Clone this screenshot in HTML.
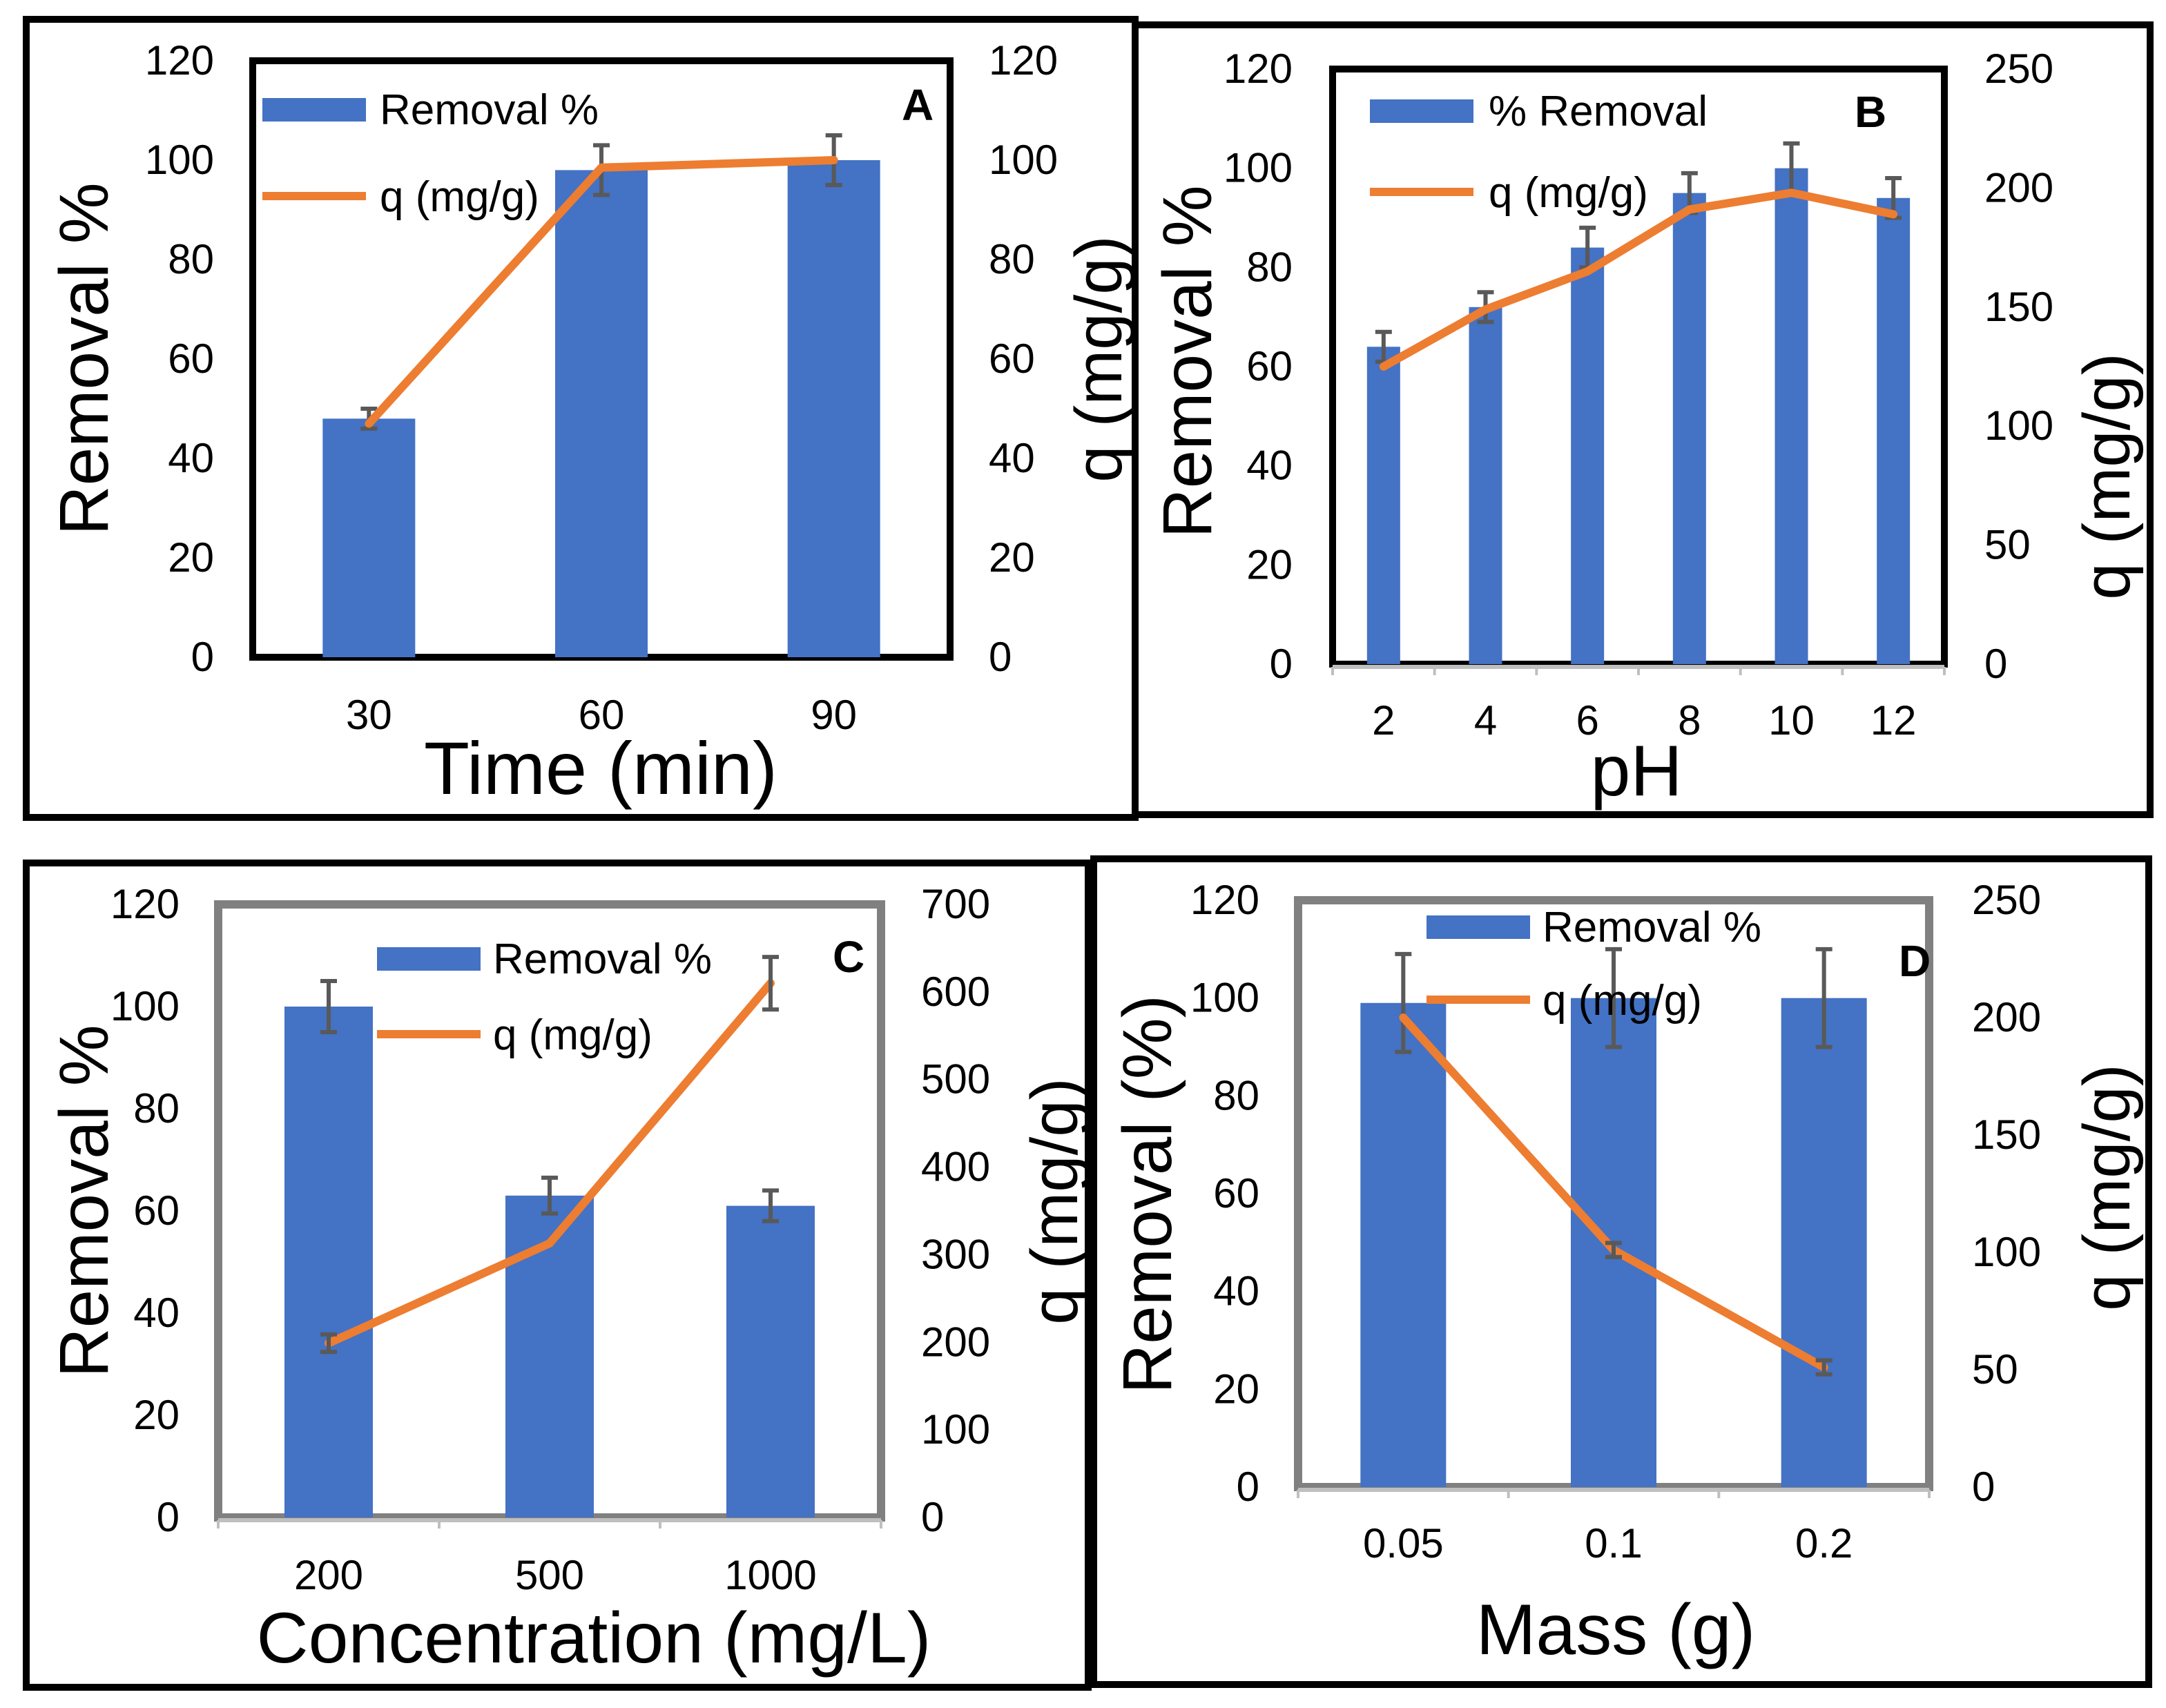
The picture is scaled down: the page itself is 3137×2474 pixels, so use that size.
<!DOCTYPE html>
<html><head><meta charset="utf-8"><style>
html,body{margin:0;padding:0;background:#fff}
svg{display:block}
text{font-family:"Liberation Sans",sans-serif;fill:#000}
</style></head><body>
<svg id="fig" width="3137" height="2474" viewBox="0 0 1568.5 1237" xmlns="http://www.w3.org/2000/svg"></svg>
<script>
// Panel A
const catsA=["30","60","90"];
const barA=[48,98,100];
const barErrA=[2,5,5];
const lineA=[47,98.5,100];
const lineErrA=[0,0,0];
// Panel B
const catsB=["2","4","6","8","10","12"];
const barB=[64,72,84,95,100,94];
const barErrB=[3,3,4,4,5,4];
const lineB=[125,149,165,191,198,189];
const lineErrB=[0,0,0,0,0,0];
// Panel C
const catsC=["200","500","1000"];
const barC=[100,63,61];
const barErrC=[5,3.5,3];
const lineC=[199,313,610];
const lineErrC=[10,0,30];
// Panel D
const catsD=["0.05","0.1","0.2"];
const barD=[99,100,100];
const barErrD=[10,10,10];
const lineD=[200,101,51];
const lineErrD=[0,3,3];
// tick labels
const leftTicks=[0,20,40,60,80,100,120];
const rightTicksA=[0,20,40,60,80,100,120];
const rightTicksB=[0,50,100,150,200,250];
const rightTicksC=[0,100,200,300,400,500,600,700];
const rightTicksD=[0,50,100,150,200,250];

const NS="http://www.w3.org/2000/svg";
const svg=document.getElementById('fig');
function el(tag,attrs,parent,txt){const e=document.createElementNS(NS,tag);for(const k in attrs)e.setAttribute(k,attrs[k]);if(txt!==undefined)e.textContent=txt;(parent||svg).appendChild(e);return e;}

function panel(cfg){
  const g=el('g',{});
  
  
  const fr=el('rect',{x:cfg.frame[0],y:cfg.frame[1],width:cfg.frame[2]-cfg.frame[0],height:cfg.frame[3]-cfg.frame[1],fill:'none',stroke:'#000','stroke-width':5},g);
  
  
  const [x0,y0,x1,y1]=cfg.plot;
  const yL=v=>y1-(v-0)/cfg.lmax*(y1-y0);
  const yR=v=>y1-(v-0)/cfg.rmax*(y1-y0);
  const n=cfg.cats.length, step=(x1-x0)/n;
  const xC=i=>x0+step*(i+0.5);
  const pb=el('rect',{x:x0,y:y0,width:x1-x0,height:y1-y0,fill:'none',stroke:cfg.boxColor,'stroke-width':cfg.boxW},g);
  
  
  if(cfg.grayAxis){const ax=el('line',{x1:x0,x2:x1,y1:y1+2,y2:y1+2,stroke:'#bfbfbf','stroke-width':3},g);
    
    for(let i=0;i<=n;i++){const t=el('line',{x1:x0+step*i,x2:x0+step*i,y1:y1+2,y2:y1+8,stroke:'#bfbfbf','stroke-width':2},g);
    }}
  cfg.bars.forEach((v,i)=>{
    const r=el('rect',{x:xC(i)-cfg.bw/2,y:yL(v),width:cfg.bw,height:y1-yL(v),fill:'#4472C4'},g);
    
    
  });
  function err(x,yTop,yBot){
    const e=el('path',{d:`M${x},${yTop}V${yBot}M${x-6},${yTop}H${x+6}M${x-6},${yBot}H${x+6}`,stroke:'#595959','stroke-width':3,fill:'none'},g);
    
    
  }
  cfg.bars.forEach((v,i)=>{const e=cfg.barErr[i];if(e)err(xC(i),yL(v+e),yL(v-e));});
  const pts=cfg.line.map((v,i)=>xC(i)+','+yR(v)).join(' ');
  const pl=el('polyline',{points:pts,fill:'none',stroke:'#ED7D31','stroke-width':6,'stroke-linejoin':'round','stroke-linecap':'round'},g);
  
  
  cfg.line.forEach((v,i)=>{const e=cfg.lineErr[i];if(e)err(xC(i),yR(v+e),yR(v-e));});
  leftTicks.forEach(t=>{const tx=el('text',{x:cfg.lx,y:yL(t)+10,'font-size':30,'text-anchor':'end'},g,String(t));
    });
  cfg.rticks.forEach(t=>{const tx=el('text',{x:cfg.rx,y:yR(t)+10,'font-size':30,'text-anchor':'start'},g,String(t));
    });
  cfg.cats.forEach((c,i)=>{const tx=el('text',{x:xC(i),y:cfg.catY,'font-size':30,'text-anchor':'middle'},g,c);
    });
  const xt=el('text',{x:cfg.xt[0],y:cfg.xt[1],'font-size':cfg.xtSize,'text-anchor':'middle'},g,cfg.xTitle);
  
  const yt=el('text',{x:0,y:0,'font-size':50,'text-anchor':'middle',transform:`translate(${cfg.yt[0]},${cfg.yt[1]}) rotate(-90)`},g,cfg.yTitle);
  
  const rt=el('text',{x:0,y:0,'font-size':48,'text-anchor':'middle',transform:`translate(${cfg.rt[0]},${cfg.rt[1]}) rotate(-90)`},g,'q (mg/g)');
  
  const [lgx,lgy1,lgy2,lgt]=cfg.leg;
  const lr=el('rect',{x:lgx,y:lgy1-8,width:75,height:17,fill:'#4472C4'},g);
  
  const lt=el('text',{x:lgt,y:lgy1+11,'font-size':31},g,cfg.legName);
  
  const ll=el('line',{x1:lgx,x2:lgx+75,y1:lgy2,y2:lgy2,stroke:'#ED7D31','stroke-width':6},g);
  
  const lt2=el('text',{x:lgt,y:lgy2+11,'font-size':31},g,'q (mg/g)');
  
  const pl2=el('text',{x:cfg.lab[0],y:cfg.lab[1],'font-size':32,'font-weight':'bold'},g,cfg.id);
  
}

panel({id:'A',frame:[19,14,822,592],plot:[183,44,688,476],boxColor:'#000',boxW:5,grayAxis:false,
 cats:catsA,bars:barA,barErr:barErrA,line:lineA,lineErr:lineErrA,lmax:120,rmax:120,rticks:rightTicksA,bw:67,
 lx:155,rx:716,catY:528,xTitle:'Time (min)',xt:[435,575],xtSize:54,yTitle:'Removal %',yt:[78,260],rt:[812,260],
 leg:[190,79,142,275],legName:'Removal %',lab:[653,87]});
panel({id:'B',frame:[822,18,1557,590],plot:[965,50,1408,481],boxColor:'#000',boxW:5,grayAxis:true,
 cats:catsB,bars:barB,barErr:barErrB,line:lineB,lineErr:lineErrB,lmax:120,rmax:250,rticks:rightTicksB,bw:24,
 lx:936,rx:1437,catY:532,xTitle:'pH',xt:[1185,576],xtSize:52,yTitle:'Removal %',yt:[877,262],rt:[1542,345],
 leg:[992,80,139,1078],legName:'% Removal',lab:[1343,92]});
panel({id:'C',frame:[19,625,788,1222],plot:[158,655,638,1099],boxColor:'#808080',boxW:6,grayAxis:true,
 cats:catsC,bars:barC,barErr:barErrC,line:lineC,lineErr:lineErrC,lmax:120,rmax:700,rticks:rightTicksC,bw:64,
 lx:130,rx:667,catY:1151,xTitle:'Concentration (mg/L)',xt:[430,1204],xtSize:52,yTitle:'Removal %',yt:[78,870],rt:[780,870],
 leg:[273,694,749,357],legName:'Removal %',lab:[603,704]});
panel({id:'D',frame:[792,622,1556,1220],plot:[940,652,1397,1077],boxColor:'#808080',boxW:6,grayAxis:true,
 cats:catsD,bars:barD,barErr:barErrD,line:lineD,lineErr:lineErrD,lmax:120,rmax:250,rticks:rightTicksD,bw:62,
 lx:912,rx:1428,catY:1128,xTitle:'Mass (g)',xt:[1170,1198],xtSize:52,yTitle:'Removal (%)',yt:[848,865],rt:[1542,860],
 leg:[1033,671,724,1117],legName:'Removal %',lab:[1375,707]});
</script>
</body></html>
